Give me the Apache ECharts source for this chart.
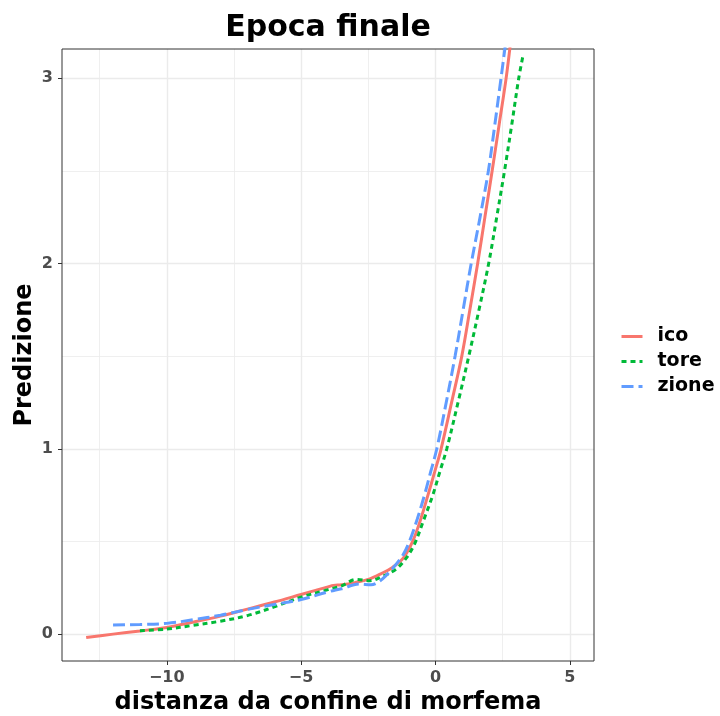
<!DOCTYPE html>
<html>
<head>
<meta charset="utf-8">
<script src="https://cdn.jsdelivr.net/npm/echarts@6/dist/echarts.min.js"></script>
<style>
  html, body { margin: 0; padding: 0; background: #ffffff; }
  #chart { width: 720px; height: 716px; }
</style>
</head>
<body>
<div id="chart"></div>
<script>
// Predicted value by distance from the morpheme boundary, one curve per suffix.
const seriesNames = ['ico', 'tore', 'zione'];
const seriesColors = ['#F8766D', '#00BA38', '#619CFF'];

const icoX = [-13, -12, -11, -10, -9, -8, -7, -6, -5, -4, -3.8, -3.5, -3, -2.5, -2, -1.6, -1.2, -0.85, -0.55, -0.28, -0.03, 0.21, 0.6, 0.98, 1.28, 1.57, 1.84, 2.11, 2.37, 2.63, 2.8];
const icoY = [-0.018, 0.0, 0.017, 0.036, 0.065, 0.097, 0.135, 0.173, 0.214, 0.255, 0.263, 0.266, 0.278, 0.295, 0.328, 0.36, 0.41, 0.5, 0.62, 0.75, 0.875, 1.0, 1.25, 1.5, 1.75, 2.0, 2.25, 2.5, 2.75, 3.0, 3.2];

const toreX = [-11, -10, -9, -8, -7, -6, -5, -4, -3.5, -2.95, -2.45, -1.96, -1.47, -1.09, -0.78, -0.44, -0.1, 0.16, 0.42, 0.84, 1.24, 1.62, 1.98, 2.28, 2.57, 2.84, 3.1, 3.27];
const toreY = [0.018, 0.027, 0.048, 0.07, 0.1, 0.147, 0.2, 0.24, 0.26, 0.295, 0.288, 0.313, 0.35, 0.41, 0.486, 0.615, 0.75, 0.875, 1.0, 1.25, 1.5, 1.75, 2.0, 2.25, 2.5, 2.75, 3.0, 3.13];

const zioneX = [-12, -11, -10, -9, -8, -7, -6, -5, -4, -3.5, -2.83, -2.4, -2.2, -1.96, -1.59, -1.2, -0.97, -0.68, -0.41, -0.18, 0.05, 0.4, 0.73, 1.03, 1.33, 1.66, 1.97, 2.21, 2.44, 2.62];
const zioneY = [0.049, 0.052, 0.058, 0.078, 0.102, 0.133, 0.16, 0.187, 0.228, 0.245, 0.27, 0.266, 0.275, 0.3, 0.355, 0.43, 0.5, 0.62, 0.75, 0.875, 1.0, 1.25, 1.5, 1.75, 2.0, 2.25, 2.5, 2.75, 3.0, 3.2];

const xTicks = [-10, -5, 0, 5];
const xMinorTicks = [-12.5, -7.5, -2.5, 2.5];
const yTicks = [0, 1, 2, 3];
const yMinorTicks = [0.5, 1.5, 2.5];

const titleText = 'Epoca finale';
const xTitle = 'distanza da confine di morfema';
const yTitle = 'Predizione';

const FONT = '"DejaVu Sans", sans-serif';
const pairs = (xs, ys) => xs.map((x, i) => [x, ys[i]]);
const minusFmt = v => (v < 0 ? '\u2212' + Math.abs(v) : String(v));

const xs = [icoX, toreX, zioneX];
const ys = [icoY, toreY, zioneY];
const dashes = ['solid', [5, 4], [12, 5]];

const chart = echarts.init(document.getElementById('chart'), null, { renderer: 'canvas' });

const xRange = { min: -13.9, max: 5.9 };
const yRange = { min: -0.145, max: 3.157 };
const GRID_COLOR = '#EBEBEB';

chart.setOption({
  backgroundColor: '#ffffff',
  animation: false,
  grid: {
    left: 62, top: 49, right: 126, bottom: 55,
    show: true, borderColor: '#333333', borderWidth: 1, backgroundColor: 'transparent', z: 3
  },
  xAxis: [
    {
      type: 'value', ...xRange, gridIndex: 0, position: 'bottom',
      axisLine: { show: false, onZero: false },
      axisTick: { show: true, customValues: xTicks, length: 4, lineStyle: { color: '#333333', width: 1 } },
      axisLabel: { customValues: xTicks, formatter: minusFmt, margin: 9, color: '#4D4D4D', fontFamily: FONT, fontWeight: 'bold', fontSize: 16 },
      splitLine: { show: true, lineStyle: { color: GRID_COLOR, width: 1.4 } }
    },
    {
      type: 'value', ...xRange, gridIndex: 0, position: 'top',
      axisLine: { show: false, onZero: false },
      axisTick: { show: false, customValues: xMinorTicks },
      axisLabel: { show: false, customValues: xMinorTicks },
      splitLine: { show: true, lineStyle: { color: GRID_COLOR, width: 0.8 } }
    }
  ],
  yAxis: [
    {
      type: 'value', ...yRange, gridIndex: 0, position: 'left',
      axisLine: { show: false, onZero: false },
      axisTick: { show: true, customValues: yTicks, length: 4, lineStyle: { color: '#333333', width: 1 } },
      axisLabel: { customValues: yTicks, formatter: minusFmt, margin: 9, color: '#4D4D4D', fontFamily: FONT, fontWeight: 'bold', fontSize: 16 },
      splitLine: { show: true, lineStyle: { color: GRID_COLOR, width: 1.4 } }
    },
    {
      type: 'value', ...yRange, gridIndex: 0, position: 'right',
      axisLine: { show: false, onZero: false },
      axisTick: { show: false, customValues: yMinorTicks },
      axisLabel: { show: false, customValues: yMinorTicks },
      splitLine: { show: true, lineStyle: { color: GRID_COLOR, width: 0.8 } }
    }
  ],
  legend: {
    orient: 'vertical',
    left: 620, top: 324,
    padding: 0,
    itemGap: 0,
    itemWidth: 21, itemHeight: 12,
    data: seriesNames,
    lineStyle: { width: 3 },
    itemStyle: { opacity: 0 },
    textStyle: { fontFamily: FONT, fontWeight: 'bold', fontSize: 19, color: '#000000', lineHeight: 25, padding: [0, 0, 0, 10] }
  },
  series: seriesNames.map((name, i) => ({
    name,
    type: 'line',
    xAxisIndex: 0, yAxisIndex: 0,
    data: pairs(xs[i], ys[i]),
    smooth: 0.35,
    symbol: 'none',
    showSymbol: false,
    clip: true,
    color: seriesColors[i],
    lineStyle: { color: seriesColors[i], width: 3, type: dashes[i], cap: 'butt' },
    z: 5 + i
  })),
  graphic: [
    {
      type: 'text', x: 328, y: 28.5,
      style: { text: titleText, fontFamily: FONT, fontWeight: 'bold', fontSize: 30, fill: '#000000', align: 'center', verticalAlign: 'middle' }
    },
    {
      type: 'text', x: 328, y: 703,
      style: { text: xTitle, fontFamily: FONT, fontWeight: 'bold', fontSize: 24, fill: '#000000', align: 'center', verticalAlign: 'middle' }
    },
    {
      type: 'text', x: 25, y: 355, rotation: Math.PI / 2,
      style: { text: yTitle, fontFamily: FONT, fontWeight: 'bold', fontSize: 24, fill: '#000000', align: 'center', verticalAlign: 'middle' }
    }
  ]
});
</script>
</body>
</html>
